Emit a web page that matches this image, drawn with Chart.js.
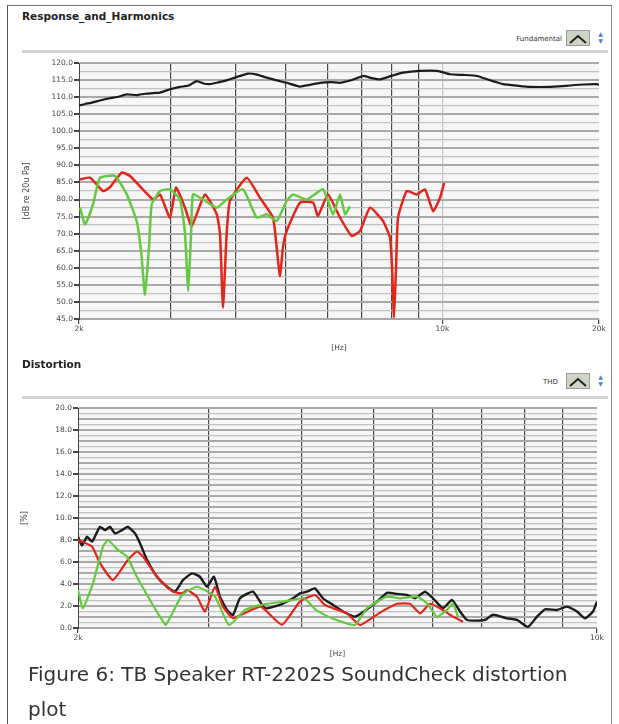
<!DOCTYPE html>
<html><head><meta charset="utf-8">
<script src="https://cdn.jsdelivr.net/npm/chart.js@4.4.1/dist/chart.umd.min.js"></script>
<style>
html,body{margin:0;padding:0;background:#fff;}
body{width:619px;height:724px;overflow:hidden;position:relative;font-family:"DejaVu Sans",Verdana,sans-serif;}
.frame{position:absolute;left:7px;top:5px;width:605px;height:740px;border-left:1px solid #555;border-top:1px solid #777;border-right:1px solid #888;box-sizing:border-box;}
.title{position:absolute;left:22px;font-weight:bold;font-size:10.5px;color:#222;}
.sep{position:absolute;left:22px;width:586px;height:3px;background:#d2d2d2;}
.leg{position:absolute;font-size:7px;color:#333;text-align:right;width:62px;}
.icon{position:absolute;width:24px;height:16px;background:#cfd5c4;border:1px solid #999;box-sizing:border-box;}
.arr{position:absolute;width:7px;font-size:6px;line-height:7px;color:#4a7fd0;text-align:center;}
.cv{position:absolute;left:0;}
.caption{position:absolute;left:28px;top:657px;font-size:20px;line-height:35px;color:#333;width:570px;}
</style></head>
<body>
<div class="frame"></div>
<div class="title" style="top:10px">Response_and_Harmonics</div>
<div class="leg" style="left:500px;top:35px">Fundamental</div>
<div class="icon" style="left:566px;top:30px"><svg width="22" height="14"><polyline points="3,11 11,4 19,11" fill="none" stroke="#222" stroke-width="2"/></svg></div>
<div class="arr" style="left:597px;top:30px">▲<br>▼</div>
<div class="sep" style="top:50px"></div>
<canvas id="c1" class="cv" width="619" height="310" style="top:50px"></canvas>

<div class="title" style="top:358px">Distortion</div>
<div class="leg" style="left:496px;top:378px">THD</div>
<div class="icon" style="left:566px;top:373px"><svg width="22" height="14"><polyline points="3,11 11,4 19,11" fill="none" stroke="#222" stroke-width="2"/></svg></div>
<div class="arr" style="left:597px;top:373px">▲<br>▼</div>
<div class="sep" style="top:396px"></div>
<canvas id="c2" class="cv" width="619" height="270" style="top:390px"></canvas>

<div class="caption">Figure 6: TB Speaker RT-2202S SoundCheck distortion plot</div>

<script>
// ---------- Response_and_Harmonics (top) ----------
const respXTicks = [2000, 3000, 4000, 5000, 6000, 7000, 8000, 9000, 10000, 20000];
const respXLabels = {2000: '2k', 10000: '10k', 20000: '20k'};

const fundFreq = [2000, 2054, 2110, 2195, 2280, 2390, 2471, 2580, 2679, 2780, 2863, 2992, 3128, 3250, 3369, 3470, 3572, 3700, 3846, 4000, 4227, 4400, 4592, 4800, 5017, 5321, 5560, 5815, 6100, 6354, 6700, 7035, 7300, 7584, 8000, 8398, 9055, 9764, 10343, 11000, 11656, 12300, 13078, 14000, 14737, 16103, 17000, 17592, 18700, 19823, 20000];
const fundDb   = [107.5, 108.0, 108.3, 109.0, 109.6, 110.2, 110.8, 110.6, 111.0, 111.2, 111.3, 112.3, 113.0, 113.4, 114.7, 114.0, 113.8, 114.3, 114.9, 115.8, 116.9, 116.6, 115.7, 114.9, 114.2, 113.1, 113.6, 114.2, 114.4, 114.2, 115.0, 116.2, 115.6, 115.2, 116.3, 117.2, 117.7, 117.7, 116.7, 116.5, 116.2, 115.0, 113.8, 113.3, 113.0, 113.0, 113.2, 113.4, 113.7, 113.8, 113.6];

const redFreq = [2009, 2100, 2224, 2294, 2416, 2507, 2776, 2863, 2992, 3073, 3198, 3294, 3494, 3680, 3734, 3784, 3846, 3903, 4203, 4458, 4722, 4806, 4870, 4935, 5017, 5321, 5637, 5763, 6023, 6354, 6692, 6942, 7256, 7686, 7928, 7999, 8070, 8142, 8214, 8537, 8923, 9257, 9592, 9894, 10071];
const redDb   = [85.9, 86.4, 82.5, 83.6, 87.9, 86.9, 80.0, 81.5, 74.7, 83.5, 77.6, 72.2, 81.5, 75.7, 70.0, 48.3, 70.0, 79.6, 86.4, 80.5, 74.7, 65.0, 57.6, 66.0, 70.8, 79.1, 79.1, 75.2, 81.5, 74.7, 69.3, 70.8, 77.6, 73.7, 68.8, 60.0, 45.4, 60.0, 74.7, 82.5, 81.5, 83.0, 76.6, 80.5, 84.9];

const greenFreq = [2009, 2054, 2128, 2195, 2346, 2471, 2582, 2632, 2679, 2727, 2760, 2863, 2992, 3128, 3198, 3245, 3285, 3313, 3464, 3680, 3846, 4135, 4393, 4592, 4800, 5017, 5159, 5482, 5892, 6160, 6354, 6496, 6642];
const greenDb   = [77.6, 72.7, 78.6, 86.4, 86.9, 81.5, 73.7, 65.0, 52.2, 66.0, 78.6, 82.5, 83.0, 80.0, 70.0, 53.2, 70.0, 81.5, 80.0, 77.6, 80.0, 83.0, 74.7, 75.7, 73.7, 79.6, 81.5, 80.0, 83.0, 75.7, 81.5, 75.7, 78.0];

// ---------- Distortion (bottom) ----------
const distXTicks = [2000, 3000, 4000, 5000, 6000, 7000, 8000, 9000, 10000];
const distXLabels = {2000: '2k', 10000: '10k'};

const thdFreq = [2000, 2025, 2057, 2089, 2141, 2175, 2209, 2243, 2292, 2335, 2387, 2424, 2477, 2555, 2635, 2702, 2770, 2848, 2919, 2983, 3049, 3106, 3174, 3234, 3305, 3441, 3571, 3741, 3895, 3981, 4068, 4170, 4275, 4410, 4549, 4721, 4900, 5055, 5214, 5378, 5548, 5687, 5866, 6013, 6203, 6378, 6538, 6682, 6893, 7066, 7243, 7565, 7803, 8074, 8302, 8511, 8834, 9112, 9399, 9635, 9877, 10000];
const thdPct  = [8.3, 7.5, 8.3, 7.85, 9.2, 8.9, 9.2, 8.6, 8.9, 9.2, 8.6, 7.7, 6.2, 4.66, 3.75, 3.3, 4.36, 4.97, 4.66, 3.75, 4.66, 2.85, 1.64, 1.18, 2.7, 3.3, 1.8, 2.1, 2.7, 3.15, 3.3, 3.6, 2.7, 2.1, 1.5, 1.03, 1.7, 2.4, 3.2, 3.1, 3.0, 2.7, 3.3, 2.7, 1.8, 2.55, 1.5, 0.73, 0.67, 0.73, 1.2, 0.88, 0.73, 0.1, 1.03, 1.7, 1.64, 1.94, 1.5, 0.88, 1.5, 2.4];

const h2Freq = [2000, 2089, 2141, 2229, 2335, 2401, 2446, 2555, 2685, 2762, 2805, 2892, 2965, 3058, 3135, 3234, 3356, 3527, 3765, 3981, 4170, 4300, 4410, 4605, 4795, 5102, 5378, 5600, 5776, 5958, 6145, 6398, 6600];
const h2Pct  = [8.0, 7.4, 5.9, 4.36, 6.2, 6.95, 6.5, 4.66, 3.3, 3.15, 3.45, 2.85, 1.5, 3.75, 1.94, 0.9, 1.36, 1.94, 0.3, 2.4, 3.0, 2.1, 1.8, 1.33, 0.27, 1.4, 2.2, 2.2, 1.33, 2.2, 1.8, 1.03, 0.57];

const h3Freq = [2000, 2031, 2095, 2161, 2195, 2264, 2328, 2401, 2500, 2579, 2627, 2762, 2892, 3058, 3194, 3356, 3527, 3788, 4030, 4183, 4396, 4721, 4900, 5214, 5429, 5723, 5902, 6088, 6280, 6398, 6498];
const h3Pct  = [3.45, 1.8, 4.06, 7.4, 8.0, 7.1, 6.5, 4.66, 2.55, 1.03, 0.3, 3.0, 3.75, 2.85, 0.27, 1.64, 2.1, 2.4, 2.7, 1.64, 0.88, 0.27, 1.8, 2.85, 2.7, 2.85, 2.24, 1.03, 1.64, 2.24, 1.0];

const BLACK = '#1b1b1b', RED = '#e3261b', GREEN = '#63c93e';
const pts = (xs, ys) => xs.map((x, i) => ({x, y: ys[i]}));
const FONT = {family: '"DejaVu Sans", Verdana, sans-serif', size: 7.5};

const plotBg = {
  id: 'plotBg',
  beforeDraw(chart) {
    const {ctx, chartArea: a} = chart;
    ctx.save(); ctx.fillStyle = '#f6f6f6';
    ctx.fillRect(a.left, a.top, a.right - a.left, a.bottom - a.top);
    ctx.restore();
  }
};

function lineDs(data, color, w) {
  return {data, borderColor: color, borderWidth: w, pointRadius: 0, tension: 0.15, fill: false};
}

function makeChart(id, cfg) {
  return new Chart(document.getElementById(id), {
    type: 'line',
    data: {datasets: cfg.datasets},
    plugins: [plotBg],
    options: {
      responsive: false, animation: false,
      layout: {padding: cfg.padding},
      plugins: {legend: {display: false}, tooltip: {enabled: false}},
      scales: {
        x: {
          type: 'logarithmic', min: cfg.xmin, max: cfg.xmax,
          afterBuildTicks: s => { s.ticks = cfg.xTicks.map(v => ({value: v})); },
          afterFit: s => { s.height = cfg.xHeight; },
          ticks: {autoSkip: false, maxRotation: 0, padding: 1, color: '#444', font: FONT,
                  callback: v => cfg.xLabels[v] || ''},
          grid: {
            color: c => { const v = c.tick && c.tick.value; return (v > cfg.xmin && v < 10000) ? '#4a4a4a' : (v === 10000 && cfg.xmax > 10000 ? '#c4c4c4' : 'rgba(0,0,0,0)'); },
            lineWidth: 1.2, tickLength: 5,
            tickColor: c => { const v = c.tick && c.tick.value; return cfg.xLabels[v] ? '#444' : 'rgba(0,0,0,0)'; }
          },
          border: {display: false},
          title: {display: true, text: '[Hz]', color: '#444', font: FONT, padding: {top: 0, bottom: cfg.xTitlePad}}
        },
        y: {
          min: cfg.ymin, max: cfg.ymax,
          afterFit: s => { s.width = cfg.yWidth; },
          ticks: {stepSize: cfg.yStep, autoSkip: false, padding: 1, color: '#444', font: FONT,
                  callback: v => (Math.abs(v / cfg.yLabelStep - Math.round(v / cfg.yLabelStep)) < 1e-6) ? v.toFixed(1) : ''},
          grid: {
            color: c => (Math.abs(c.tick.value / cfg.yMajor - Math.round(c.tick.value / cfg.yMajor)) < 1e-6) ? '#a9a9a9' : '#c2c2c2',
            lineWidth: c => (Math.abs(c.tick.value / cfg.yMajor - Math.round(c.tick.value / cfg.yMajor)) < 1e-6) ? 2 : 1.3,
            tickLength: 5,
            tickColor: c => (Math.abs(c.tick.value / cfg.yLabelStep - Math.round(c.tick.value / cfg.yLabelStep)) < 1e-6) ? '#444' : 'rgba(0,0,0,0)'
          },
          border: {display: true, color: '#444', width: 1},
          title: {display: true, text: cfg.yTitle, color: '#444', font: {family: FONT.family, size: 8}, padding: {top: cfg.yTitlePad, bottom: 0}}
        }
      }
    }
  });
}

makeChart('c1', {
  datasets: [
    lineDs(pts(greenFreq, greenDb), GREEN, 2.5),
    lineDs(pts(redFreq, redDb), RED, 2.5),
    lineDs(pts(fundFreq, fundDb), BLACK, 2.2)
  ],
  padding: {left: 14, right: 20, top: 13, bottom: 0},
  xmin: 2000, xmax: 20000, xTicks: respXTicks, xLabels: respXLabels, xHeight: 41, xTitlePad: 7,
  ymin: 45, ymax: 120, yStep: 2.5, yLabelStep: 5, yMajor: 5, yWidth: 65,
  yTitle: '[dB re 20u Pa]', yTitlePad: 8
});

makeChart('c2', {
  datasets: [
    lineDs(pts(h3Freq, h3Pct), GREEN, 2.2),
    lineDs(pts(h2Freq, h2Pct), RED, 2.2),
    lineDs(pts(thdFreq, thdPct), BLACK, 2.4)
  ],
  padding: {left: 14, right: 22, top: 18, bottom: 0},
  xmin: 2000, xmax: 10000, xTicks: distXTicks, xLabels: distXLabels, xHeight: 32, xTitlePad: 1,
  ymin: 0, ymax: 20, yStep: 0.5, yLabelStep: 2, yMajor: 1, yWidth: 64,
  yTitle: '[%]', yTitlePad: 6
});
</script>
</body></html>
